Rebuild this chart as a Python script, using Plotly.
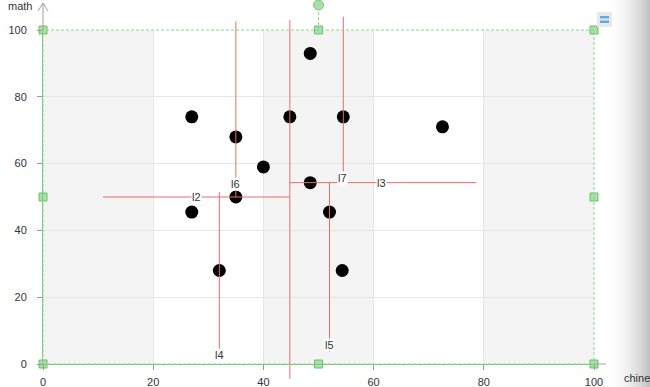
import plotly.graph_objects as go

# ---- data ----
chinese = [27, 35, 44.8, 48.5, 54.5, 72.5, 40, 48.5, 35, 27, 52, 32, 54.3]
math = [74, 68, 74, 93, 74, 71, 59, 54.3, 50, 45.5, 45.5, 28, 28]

line_names = ["l1", "l2", "l3", "l4", "l5", "l6", "l7"]
line_x0 = [44.8, 10.9, 44.8, 32, 52, 35, 54.5]
line_x1 = [44.8, 44.8, 78.6, 32, 52, 35, 54.5]
line_y0 = [-4.5, 50, 54.3, 51.5, 54.3, 102.5, 104]
line_y1 = [103, 50, 54.3, 2, 3.6, 50, 54.3]
label_x = [44.6, 27.9, 61.5, 32, 52, 35, 54.4]
label_y = [100.3, 50, 54.3, 2.7, 5.7, 53.9, 55.7]

handle_x = [0, 0, 0, 50, 50, 100, 100, 100]
handle_y = [0, 50, 100, 0, 100, 0, 50, 100]

x_ticks = [0, 20, 40, 60, 80, 100]
y_ticks = [0, 20, 40, 60, 80, 100]

# ---- layout helpers (pixel -> paper) ----
L, R, T, B = 43, 56, 30, 23
W, H = 650, 387
PW, PH = W - L - R, H - T - B


def pxx(px):
    return (px - L) / PW


def pxy(py):
    return (H - B - py) / PH


FONT = "Liberation Sans, Arial, sans-serif"
RED = "#e86c6c"
GREEN = "#8fd48f"

fig = go.Figure()

fig.add_trace(go.Scatter(
    x=chinese, y=math, mode="markers",
    marker=dict(color="black", size=13, line=dict(width=0)),
    hoverinfo="skip", showlegend=False))

fig.add_trace(go.Scatter(
    x=handle_x, y=handle_y, mode="markers", cliponaxis=False,
    marker=dict(symbol="square", size=8, color="#a9dfa9",
                line=dict(color="#6fc06f", width=1)),
    hoverinfo="skip", showlegend=False))

shapes = []
# split areas
for i in range(0, len(x_ticks) - 1, 2):
    shapes.append(dict(type="rect", xref="x", yref="y", x0=x_ticks[i], x1=x_ticks[i + 1],
                       y0=0, y1=100, fillcolor="#f4f4f4", line=dict(width=0), layer="below"))

# kd-tree split lines
for n, a, b, c, d in zip(line_names, line_x0, line_x1, line_y0, line_y1):
    if a == b:
        shapes.append(dict(type="line", xref="x", yref="paper", x0=a, x1=b,
                           y0=c / 100.0, y1=d / 100.0, line=dict(color=RED, width=1)))
    else:
        shapes.append(dict(type="line", xref="x", yref="y", x0=a, x1=b,
                           y0=c, y1=d, line=dict(color=RED, width=1)))

# green dashed frame
shapes.append(dict(type="rect", xref="paper", yref="paper", x0=0, x1=1, y0=0, y1=1,
                   line=dict(color=GREEN, width=1, dash="3px,2px")))
shapes.append(dict(type="line", xref="x", yref="paper", x0=50, x1=50, y0=1, y1=pxy(5),
                   line=dict(color=GREEN, width=1, dash="3px,2px")))
# rotation handle circle
shapes.append(dict(type="circle", xref="paper", yref="paper",
                   x0=pxx(L + PW / 2 - 5), x1=pxx(L + PW / 2 + 5), y0=pxy(10), y1=pxy(0),
                   fillcolor="#a9dfa9", line=dict(color="#7cc47c", width=1)))

# axis extensions with arrows
AX = "#a0a0a0"
shapes.append(dict(type="line", xref="paper", yref="paper", x0=1, x1=pxx(624), y0=0, y1=0,
                   line=dict(color=AX, width=1)))
shapes.append(dict(type="path", xref="paper", yref="paper",
                   path=f"M {pxx(615)},{pxy(359)} L {pxx(624)},{pxy(364)} L {pxx(615)},{pxy(369)}",
                   line=dict(color=AX, width=1)))
shapes.append(dict(type="line", xref="paper", yref="paper", x0=0, x1=0, y0=1, y1=pxy(3),
                   line=dict(color=AX, width=1)))
shapes.append(dict(type="path", xref="paper", yref="paper",
                   path=f"M {pxx(38)},{pxy(11)} L {pxx(43)},{pxy(3)} L {pxx(48)},{pxy(11)}",
                   line=dict(color=AX, width=1)))

# right-edge shadow gradient
for k in range(22):
    p0 = 606 + 2 * k
    t = (p0 + 1 - 606) / 44.0
    g = int(round(255 - 64 * t * t))
    shapes.append(dict(type="rect", xref="paper", yref="paper", x0=pxx(p0), x1=pxx(p0 + 2.05),
                       y0=pxy(H + 2), y1=pxy(-2), fillcolor=f"rgb({g},{g},{g})",
                       line=dict(width=0), layer="above"))

# toolbox icon
shapes.append(dict(type="rect", xref="paper", yref="paper", x0=pxx(597), x1=pxx(612),
                   y0=pxy(27), y1=pxy(12), fillcolor="#e8e8e8", line=dict(width=0)))
for y0, y1 in [(16, 18.5), (20.5, 23)]:
    shapes.append(dict(type="rect", xref="paper", yref="paper", x0=pxx(600), x1=pxx(609),
                       y0=pxy(y1), y1=pxy(y0), fillcolor="#5aaee4", line=dict(width=0)))

annotations = []
for n, lx, ly in zip(line_names, label_x, label_y):
    annotations.append(dict(x=lx, y=ly, xref="x", yref="y", text=n, showarrow=False,
                            xanchor="center", yanchor="middle",
                            font=dict(family=FONT, size=11, color="#333"),
                            bgcolor="white", borderpad=0))
annotations.append(dict(x=pxx(20), y=pxy(6), xref="paper", yref="paper", text="math",
                        xanchor="center", yanchor="middle",
                        showarrow=False, font=dict(family=FONT, size=11, color="#333")))
annotations.append(dict(x=pxx(622), y=pxy(378), xref="paper", yref="paper", text="chinese",
                        xanchor="left", yanchor="middle", showarrow=False,
                        font=dict(family=FONT, size=11, color="#333")))

axis_common = dict(range=[0, 100], showgrid=True, gridcolor="#e6e6e6", gridwidth=1,
                   zeroline=False, showline=True, linecolor="#7cc47c", linewidth=1,
                   ticks="outside", ticklen=5, tickcolor="#999", automargin=False,
                   tickfont=dict(family=FONT, size=11, color="#333"), fixedrange=True)

fig.update_layout(
    width=W, height=H,
    margin=dict(l=L, r=R, t=T, b=B, pad=0, autoexpand=False),
    paper_bgcolor="white", plot_bgcolor="white",
    showlegend=False,
    xaxis=dict(tickvals=x_ticks, ticktext=[str(v) for v in x_ticks], ticklabelstandoff=3,
               **axis_common),
    yaxis=dict(tickvals=y_ticks, ticktext=[str(v) for v in y_ticks], ticklabelstandoff=8,
               **axis_common),
    shapes=shapes,
    annotations=annotations,
)

fig.write_html(
    "out.html",
    config={"displayModeBar": False},
    post_script="document.body.style.margin='0';document.body.style.overflow='hidden';",
)
